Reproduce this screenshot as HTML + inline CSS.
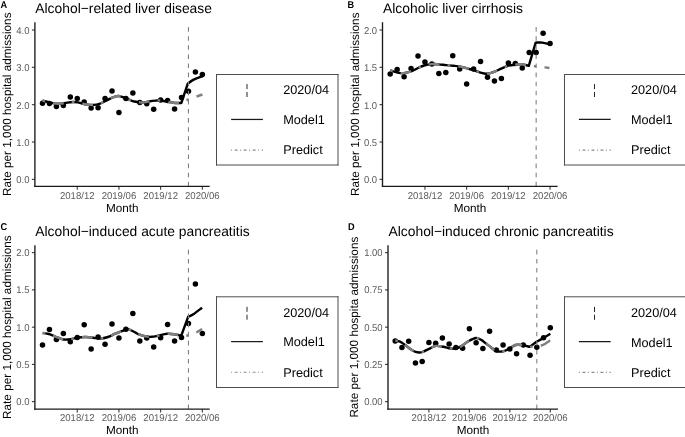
<!DOCTYPE html><html><head><meta charset="utf-8"><style>html,body{margin:0;padding:0;background:#fff;}svg{display:block;filter:grayscale(1);}text{font-family:"Liberation Sans", sans-serif;text-rendering:geometricPrecision;}</style></head><body>
<svg width="685" height="437" viewBox="0 0 685 437">
<rect width="685" height="437" fill="#fff"/>
<text x="35.30" y="13.10" font-size="13.85" fill="#000">Alcohol−related liver disease</text>
<text transform="translate(0.60,8.05) scale(0.93,1)" font-size="9.90" font-weight="bold" fill="#000">A</text>
<text transform="translate(10.50,104.27) rotate(-90)" text-anchor="middle" font-size="11.75" fill="#000">Rate per 1,000 hospital admissions</text>
<text x="122.30" y="211.50" text-anchor="middle" font-size="11.75" fill="#000">Month</text>
<line x1="31.90" y1="179.35" x2="34.90" y2="179.35" stroke="#333333" stroke-width="1.07"/>
<text transform="translate(29.50,183.30) scale(0.96,1)" text-anchor="end" font-size="9.90" fill="#5c5c5c">0.0</text>
<line x1="31.90" y1="142.01" x2="34.90" y2="142.01" stroke="#333333" stroke-width="1.07"/>
<text transform="translate(29.50,145.96) scale(0.96,1)" text-anchor="end" font-size="9.90" fill="#5c5c5c">1.0</text>
<line x1="31.90" y1="104.67" x2="34.90" y2="104.67" stroke="#333333" stroke-width="1.07"/>
<text transform="translate(29.50,108.62) scale(0.96,1)" text-anchor="end" font-size="9.90" fill="#5c5c5c">2.0</text>
<line x1="31.90" y1="67.33" x2="34.90" y2="67.33" stroke="#333333" stroke-width="1.07"/>
<text transform="translate(29.50,71.28) scale(0.96,1)" text-anchor="end" font-size="9.90" fill="#5c5c5c">3.0</text>
<line x1="31.90" y1="29.99" x2="34.90" y2="29.99" stroke="#333333" stroke-width="1.07"/>
<text transform="translate(29.50,33.94) scale(0.96,1)" text-anchor="end" font-size="9.90" fill="#5c5c5c">4.0</text>
<line x1="77.25" y1="186.35" x2="77.25" y2="189.65" stroke="#333333" stroke-width="1.07"/>
<text transform="translate(77.25,199.00) scale(0.97,1)" text-anchor="middle" font-size="9.90" fill="#5c5c5c">2018/12</text>
<line x1="118.95" y1="186.35" x2="118.95" y2="189.65" stroke="#333333" stroke-width="1.07"/>
<text transform="translate(118.95,199.00) scale(0.97,1)" text-anchor="middle" font-size="9.90" fill="#5c5c5c">2019/06</text>
<line x1="160.65" y1="186.35" x2="160.65" y2="189.65" stroke="#333333" stroke-width="1.07"/>
<text transform="translate(160.65,199.00) scale(0.97,1)" text-anchor="middle" font-size="9.90" fill="#5c5c5c">2019/12</text>
<line x1="202.35" y1="186.35" x2="202.35" y2="189.65" stroke="#333333" stroke-width="1.07"/>
<text transform="translate(202.35,199.00) scale(0.97,1)" text-anchor="middle" font-size="9.90" fill="#5c5c5c">2020/06</text>
<circle cx="42.50" cy="103.20" r="2.75" fill="#000"/>
<circle cx="49.45" cy="103.40" r="2.75" fill="#000"/>
<circle cx="56.40" cy="106.50" r="2.75" fill="#000"/>
<circle cx="63.35" cy="105.60" r="2.75" fill="#000"/>
<circle cx="70.30" cy="97.00" r="2.75" fill="#000"/>
<circle cx="77.25" cy="98.40" r="2.75" fill="#000"/>
<circle cx="84.20" cy="101.90" r="2.75" fill="#000"/>
<circle cx="91.15" cy="108.00" r="2.75" fill="#000"/>
<circle cx="98.10" cy="107.70" r="2.75" fill="#000"/>
<circle cx="105.05" cy="98.40" r="2.75" fill="#000"/>
<circle cx="112.00" cy="90.90" r="2.75" fill="#000"/>
<circle cx="118.95" cy="112.40" r="2.75" fill="#000"/>
<circle cx="125.90" cy="98.40" r="2.75" fill="#000"/>
<circle cx="132.85" cy="92.90" r="2.75" fill="#000"/>
<circle cx="139.80" cy="102.40" r="2.75" fill="#000"/>
<circle cx="146.75" cy="103.70" r="2.75" fill="#000"/>
<circle cx="153.70" cy="109.30" r="2.75" fill="#000"/>
<circle cx="160.65" cy="100.00" r="2.75" fill="#000"/>
<circle cx="167.60" cy="100.60" r="2.75" fill="#000"/>
<circle cx="174.55" cy="109.00" r="2.75" fill="#000"/>
<circle cx="181.50" cy="97.60" r="2.75" fill="#000"/>
<circle cx="188.45" cy="91.20" r="2.75" fill="#000"/>
<circle cx="195.40" cy="72.00" r="2.75" fill="#000"/>
<circle cx="202.35" cy="74.40" r="2.75" fill="#000"/>
<path d="M42.50,100.60 C43.12,100.75 44.52,101.08 46.20,101.50 C47.88,101.92 50.65,102.72 52.60,103.10 C54.55,103.48 56.05,103.75 57.90,103.80 C59.75,103.85 62.15,103.60 63.70,103.40 C65.25,103.20 65.65,102.83 67.20,102.60 C68.75,102.37 71.20,102.03 73.00,102.00 C74.80,101.97 76.53,102.15 78.00,102.40 C79.47,102.65 80.18,103.13 81.80,103.50 C83.42,103.87 85.75,104.37 87.70,104.60 C89.65,104.83 91.55,105.03 93.50,104.90 C95.45,104.77 97.45,104.43 99.40,103.80 C101.35,103.17 103.27,102.03 105.20,101.10 C107.13,100.17 109.20,99.00 111.00,98.20 C112.80,97.40 114.72,96.67 116.00,96.30 C117.28,95.93 117.57,95.87 118.70,96.00 C119.83,96.13 121.15,96.53 122.80,97.10 C124.45,97.67 126.67,98.67 128.60,99.40 C130.53,100.13 132.45,101.00 134.40,101.50 C136.35,102.00 138.35,102.30 140.30,102.40 C142.25,102.50 144.48,102.30 146.10,102.10 C147.72,101.90 148.38,101.45 150.00,101.20 C151.62,100.95 154.05,100.72 155.80,100.60 C157.55,100.48 158.55,100.30 160.50,100.50 C162.45,100.70 165.35,101.43 167.50,101.80 C169.65,102.17 171.45,102.50 173.40,102.70 C175.35,102.90 177.88,102.95 179.20,103.00 C180.52,103.05 180.95,103.00 181.30,103.00 L187.80,83.60 C188.55,83.07 190.85,81.28 192.30,80.40 C193.75,79.52 194.98,78.93 196.50,78.30 C198.02,77.67 200.35,76.98 201.40,76.60 C202.45,76.22 202.57,76.10 202.80,76.00" fill="none" stroke="#000" stroke-width="2.4" stroke-linejoin="round"/>
<path d="M42.50,100.60 C43.12,100.75 44.52,101.08 46.20,101.50 C47.88,101.92 50.65,102.72 52.60,103.10 C54.55,103.48 56.05,103.75 57.90,103.80 C59.75,103.85 62.15,103.60 63.70,103.40 C65.25,103.20 65.65,102.83 67.20,102.60 C68.75,102.37 71.20,102.03 73.00,102.00 C74.80,101.97 76.53,102.15 78.00,102.40 C79.47,102.65 80.18,103.13 81.80,103.50 C83.42,103.87 85.75,104.37 87.70,104.60 C89.65,104.83 91.55,105.03 93.50,104.90 C95.45,104.77 97.45,104.43 99.40,103.80 C101.35,103.17 103.27,102.03 105.20,101.10 C107.13,100.17 109.20,99.00 111.00,98.20 C112.80,97.40 114.72,96.67 116.00,96.30 C117.28,95.93 117.57,95.87 118.70,96.00 C119.83,96.13 121.15,96.53 122.80,97.10 C124.45,97.67 126.67,98.67 128.60,99.40 C130.53,100.13 132.45,101.00 134.40,101.50 C136.35,102.00 138.35,102.30 140.30,102.40 C142.25,102.50 144.48,102.30 146.10,102.10 C147.72,101.90 148.38,101.45 150.00,101.20 C151.62,100.95 154.05,100.72 155.80,100.60 C157.55,100.48 158.55,100.30 160.50,100.50 C162.45,100.70 165.35,101.43 167.50,101.80 C169.65,102.17 171.45,102.50 173.40,102.70 C175.35,102.90 177.88,102.95 179.20,103.00 C180.52,103.05 180.95,103.00 181.30,103.00 L188.45,99.30 C189.61,98.90 193.07,97.70 195.40,96.90 C197.73,96.10 201.23,94.90 202.40,94.50" fill="none" stroke="#808080" stroke-width="2.4" stroke-dasharray="2.7 8.1 10.8 8.1" stroke-dashoffset="0"/>
<line x1="188.45" y1="186.35" x2="188.45" y2="22.80" stroke="#7f7f7f" stroke-width="1.07" stroke-dasharray="4.55 4.55"/>
<line x1="34.90" y1="22.20" x2="34.90" y2="187.03" stroke="#1a1a1a" stroke-width="1.35"/>
<line x1="34.23" y1="186.35" x2="209.70" y2="186.35" stroke="#1a1a1a" stroke-width="1.35"/>
<rect x="216.50" y="74.50" width="121.50" height="90.50" fill="#fff"/>
<line x1="216.00" y1="74.50" x2="338.50" y2="74.50" stroke="#4d4d4d" stroke-width="1"/>
<line x1="216.00" y1="165.00" x2="338.50" y2="165.00" stroke="#4d4d4d" stroke-width="1"/>
<line x1="216.50" y1="74.00" x2="216.50" y2="165.50" stroke="#4d4d4d" stroke-width="1"/>
<line x1="338.00" y1="74.00" x2="338.00" y2="165.50" stroke="#4d4d4d" stroke-width="1"/>
<line x1="247.00" y1="97.00" x2="247.00" y2="83.90" stroke="#262626" stroke-width="1.0" stroke-dasharray="5.0 2.9"/>
<line x1="231.10" y1="119.45" x2="262.90" y2="119.45" stroke="#1a1a1a" stroke-width="1.25"/>
<line x1="231.10" y1="150.10" x2="263.00" y2="150.10" stroke="#8a8a8a" stroke-width="1.1" stroke-dasharray="0.9 2.7 2.9 2.5"/>
<text x="283.20" y="94.10" font-size="12.70" fill="#000">2020/04</text>
<text x="283.20" y="123.75" font-size="12.70" fill="#000">Model1</text>
<text x="283.20" y="154.10" font-size="12.70" fill="#000">Predict</text>
<text x="383.00" y="13.10" font-size="13.85" fill="#000">Alcoholic liver cirrhosis</text>
<text transform="translate(347.60,8.05) scale(0.93,1)" font-size="9.90" font-weight="bold" fill="#000">B</text>
<text transform="translate(358.80,104.27) rotate(-90)" text-anchor="middle" font-size="11.75" fill="#000">Rate per 1,000 hospital admissions</text>
<text x="470.05" y="211.50" text-anchor="middle" font-size="11.75" fill="#000">Month</text>
<line x1="379.50" y1="179.35" x2="382.50" y2="179.35" stroke="#333333" stroke-width="1.07"/>
<text transform="translate(377.10,183.30) scale(0.96,1)" text-anchor="end" font-size="9.90" fill="#5c5c5c">0.0</text>
<line x1="379.50" y1="142.01" x2="382.50" y2="142.01" stroke="#333333" stroke-width="1.07"/>
<text transform="translate(377.10,145.96) scale(0.96,1)" text-anchor="end" font-size="9.90" fill="#5c5c5c">0.5</text>
<line x1="379.50" y1="104.67" x2="382.50" y2="104.67" stroke="#333333" stroke-width="1.07"/>
<text transform="translate(377.10,108.62) scale(0.96,1)" text-anchor="end" font-size="9.90" fill="#5c5c5c">1.0</text>
<line x1="379.50" y1="67.33" x2="382.50" y2="67.33" stroke="#333333" stroke-width="1.07"/>
<text transform="translate(377.10,71.28) scale(0.96,1)" text-anchor="end" font-size="9.90" fill="#5c5c5c">1.5</text>
<line x1="379.50" y1="29.99" x2="382.50" y2="29.99" stroke="#333333" stroke-width="1.07"/>
<text transform="translate(377.10,33.94) scale(0.96,1)" text-anchor="end" font-size="9.90" fill="#5c5c5c">2.0</text>
<line x1="424.95" y1="186.35" x2="424.95" y2="189.65" stroke="#333333" stroke-width="1.07"/>
<text transform="translate(424.95,199.00) scale(0.97,1)" text-anchor="middle" font-size="9.90" fill="#5c5c5c">2018/12</text>
<line x1="466.65" y1="186.35" x2="466.65" y2="189.65" stroke="#333333" stroke-width="1.07"/>
<text transform="translate(466.65,199.00) scale(0.97,1)" text-anchor="middle" font-size="9.90" fill="#5c5c5c">2019/06</text>
<line x1="508.35" y1="186.35" x2="508.35" y2="189.65" stroke="#333333" stroke-width="1.07"/>
<text transform="translate(508.35,199.00) scale(0.97,1)" text-anchor="middle" font-size="9.90" fill="#5c5c5c">2019/12</text>
<line x1="550.05" y1="186.35" x2="550.05" y2="189.65" stroke="#333333" stroke-width="1.07"/>
<text transform="translate(550.05,199.00) scale(0.97,1)" text-anchor="middle" font-size="9.90" fill="#5c5c5c">2020/06</text>
<circle cx="390.20" cy="74.10" r="2.75" fill="#000"/>
<circle cx="397.15" cy="69.40" r="2.75" fill="#000"/>
<circle cx="404.10" cy="76.70" r="2.75" fill="#000"/>
<circle cx="411.05" cy="68.50" r="2.75" fill="#000"/>
<circle cx="418.00" cy="56.00" r="2.75" fill="#000"/>
<circle cx="424.95" cy="62.10" r="2.75" fill="#000"/>
<circle cx="431.90" cy="63.90" r="2.75" fill="#000"/>
<circle cx="438.85" cy="73.40" r="2.75" fill="#000"/>
<circle cx="445.80" cy="72.50" r="2.75" fill="#000"/>
<circle cx="452.75" cy="55.70" r="2.75" fill="#000"/>
<circle cx="459.70" cy="69.00" r="2.75" fill="#000"/>
<circle cx="466.65" cy="84.00" r="2.75" fill="#000"/>
<circle cx="473.60" cy="69.00" r="2.75" fill="#000"/>
<circle cx="480.55" cy="61.50" r="2.75" fill="#000"/>
<circle cx="487.50" cy="77.30" r="2.75" fill="#000"/>
<circle cx="494.45" cy="80.90" r="2.75" fill="#000"/>
<circle cx="501.40" cy="78.50" r="2.75" fill="#000"/>
<circle cx="508.35" cy="63.00" r="2.75" fill="#000"/>
<circle cx="515.30" cy="63.40" r="2.75" fill="#000"/>
<circle cx="522.25" cy="68.10" r="2.75" fill="#000"/>
<circle cx="529.20" cy="52.40" r="2.75" fill="#000"/>
<circle cx="536.15" cy="52.40" r="2.75" fill="#000"/>
<circle cx="543.10" cy="33.20" r="2.75" fill="#000"/>
<circle cx="550.05" cy="43.40" r="2.75" fill="#000"/>
<path d="M390.20,70.30 C390.97,70.55 393.07,71.33 394.80,71.80 C396.53,72.27 398.67,72.97 400.60,73.10 C402.53,73.23 404.45,72.97 406.40,72.60 C408.35,72.23 410.35,71.67 412.30,70.90 C414.25,70.13 416.15,68.90 418.10,68.00 C420.05,67.10 421.80,66.15 424.00,65.50 C426.20,64.85 428.87,64.28 431.30,64.10 C433.73,63.92 436.17,64.23 438.60,64.40 C441.03,64.57 443.47,64.88 445.90,65.10 C448.33,65.32 450.77,65.45 453.20,65.70 C455.63,65.95 458.07,66.12 460.50,66.60 C462.93,67.08 465.55,67.98 467.80,68.60 C470.05,69.22 472.08,69.70 474.00,70.30 C475.92,70.90 477.20,71.63 479.30,72.20 C481.40,72.77 484.17,73.75 486.60,73.70 C489.03,73.65 491.47,72.75 493.90,71.90 C496.33,71.05 498.77,69.63 501.20,68.60 C503.63,67.57 506.07,66.37 508.50,65.70 C510.93,65.03 513.55,64.83 515.80,64.60 C518.05,64.37 519.83,64.10 522.00,64.30 C524.17,64.50 527.67,65.55 528.80,65.80 L535.70,42.60 C536.83,42.60 540.22,42.33 542.50,42.60 C544.78,42.87 548.25,43.93 549.40,44.20" fill="none" stroke="#000" stroke-width="2.4" stroke-linejoin="round"/>
<path d="M390.20,70.30 C390.97,70.55 393.07,71.33 394.80,71.80 C396.53,72.27 398.67,72.97 400.60,73.10 C402.53,73.23 404.45,72.97 406.40,72.60 C408.35,72.23 410.35,71.67 412.30,70.90 C414.25,70.13 416.15,68.90 418.10,68.00 C420.05,67.10 421.80,66.15 424.00,65.50 C426.20,64.85 428.87,64.28 431.30,64.10 C433.73,63.92 436.17,64.23 438.60,64.40 C441.03,64.57 443.47,64.88 445.90,65.10 C448.33,65.32 450.77,65.45 453.20,65.70 C455.63,65.95 458.07,66.12 460.50,66.60 C462.93,67.08 465.55,67.98 467.80,68.60 C470.05,69.22 472.08,69.70 474.00,70.30 C475.92,70.90 477.20,71.63 479.30,72.20 C481.40,72.77 484.17,73.75 486.60,73.70 C489.03,73.65 491.47,72.75 493.90,71.90 C496.33,71.05 498.77,69.63 501.20,68.60 C503.63,67.57 506.07,66.37 508.50,65.70 C510.93,65.03 513.55,64.83 515.80,64.60 C518.05,64.37 519.83,64.10 522.00,64.30 C524.17,64.50 527.67,65.55 528.80,65.80 L535.70,66.30 C536.83,66.42 540.22,66.72 542.50,67.00 C544.78,67.28 548.25,67.83 549.40,68.00" fill="none" stroke="#808080" stroke-width="2.4" stroke-dasharray="2.7 8.1 10.8 8.1" stroke-dashoffset="0"/>
<line x1="536.15" y1="186.35" x2="536.15" y2="22.80" stroke="#7f7f7f" stroke-width="1.07" stroke-dasharray="4.55 4.55"/>
<line x1="382.50" y1="22.20" x2="382.50" y2="187.03" stroke="#1a1a1a" stroke-width="1.35"/>
<line x1="381.82" y1="186.35" x2="557.60" y2="186.35" stroke="#1a1a1a" stroke-width="1.35"/>
<rect x="564.50" y="74.50" width="135.50" height="90.50" fill="#fff"/>
<line x1="564.00" y1="74.50" x2="700.50" y2="74.50" stroke="#4d4d4d" stroke-width="1"/>
<line x1="564.00" y1="165.00" x2="700.50" y2="165.00" stroke="#4d4d4d" stroke-width="1"/>
<line x1="564.50" y1="74.00" x2="564.50" y2="165.50" stroke="#4d4d4d" stroke-width="1"/>
<line x1="700.00" y1="74.00" x2="700.00" y2="165.50" stroke="#4d4d4d" stroke-width="1"/>
<line x1="594.50" y1="97.00" x2="594.50" y2="83.90" stroke="#262626" stroke-width="1.0" stroke-dasharray="5.0 2.9"/>
<line x1="578.90" y1="119.45" x2="610.70" y2="119.45" stroke="#1a1a1a" stroke-width="1.25"/>
<line x1="578.90" y1="150.10" x2="610.80" y2="150.10" stroke="#8a8a8a" stroke-width="1.1" stroke-dasharray="0.9 2.7 2.9 2.5"/>
<text x="631.00" y="94.10" font-size="12.70" fill="#000">2020/04</text>
<text x="631.00" y="123.75" font-size="12.70" fill="#000">Model1</text>
<text x="631.00" y="154.10" font-size="12.70" fill="#000">Predict</text>
<text x="35.30" y="236.40" font-size="13.85" fill="#000">Alcohol−induced acute pancreatitis</text>
<text transform="translate(0.60,230.25) scale(0.93,1)" font-size="9.90" font-weight="bold" fill="#000">C</text>
<text transform="translate(10.50,327.15) rotate(-90)" text-anchor="middle" font-size="11.75" fill="#000">Rate per 1,000 hospital admissions</text>
<text x="122.30" y="434.40" text-anchor="middle" font-size="11.75" fill="#000">Month</text>
<line x1="31.90" y1="401.65" x2="34.90" y2="401.65" stroke="#333333" stroke-width="1.07"/>
<text transform="translate(29.50,405.10) scale(0.96,1)" text-anchor="end" font-size="9.90" fill="#5c5c5c">0.0</text>
<line x1="31.90" y1="364.40" x2="34.90" y2="364.40" stroke="#333333" stroke-width="1.07"/>
<text transform="translate(29.50,367.85) scale(0.96,1)" text-anchor="end" font-size="9.90" fill="#5c5c5c">0.5</text>
<line x1="31.90" y1="327.15" x2="34.90" y2="327.15" stroke="#333333" stroke-width="1.07"/>
<text transform="translate(29.50,330.60) scale(0.96,1)" text-anchor="end" font-size="9.90" fill="#5c5c5c">1.0</text>
<line x1="31.90" y1="289.90" x2="34.90" y2="289.90" stroke="#333333" stroke-width="1.07"/>
<text transform="translate(29.50,293.35) scale(0.96,1)" text-anchor="end" font-size="9.90" fill="#5c5c5c">1.5</text>
<line x1="31.90" y1="252.65" x2="34.90" y2="252.65" stroke="#333333" stroke-width="1.07"/>
<text transform="translate(29.50,256.10) scale(0.96,1)" text-anchor="end" font-size="9.90" fill="#5c5c5c">2.0</text>
<line x1="77.25" y1="409.10" x2="77.25" y2="412.40" stroke="#333333" stroke-width="1.07"/>
<text transform="translate(77.25,421.20) scale(0.97,1)" text-anchor="middle" font-size="9.90" fill="#5c5c5c">2018/12</text>
<line x1="118.95" y1="409.10" x2="118.95" y2="412.40" stroke="#333333" stroke-width="1.07"/>
<text transform="translate(118.95,421.20) scale(0.97,1)" text-anchor="middle" font-size="9.90" fill="#5c5c5c">2019/06</text>
<line x1="160.65" y1="409.10" x2="160.65" y2="412.40" stroke="#333333" stroke-width="1.07"/>
<text transform="translate(160.65,421.20) scale(0.97,1)" text-anchor="middle" font-size="9.90" fill="#5c5c5c">2019/12</text>
<line x1="202.35" y1="409.10" x2="202.35" y2="412.40" stroke="#333333" stroke-width="1.07"/>
<text transform="translate(202.35,421.20) scale(0.97,1)" text-anchor="middle" font-size="9.90" fill="#5c5c5c">2020/06</text>
<circle cx="42.50" cy="345.00" r="2.75" fill="#000"/>
<circle cx="49.45" cy="329.60" r="2.75" fill="#000"/>
<circle cx="56.40" cy="339.40" r="2.75" fill="#000"/>
<circle cx="63.35" cy="333.50" r="2.75" fill="#000"/>
<circle cx="70.30" cy="341.80" r="2.75" fill="#000"/>
<circle cx="77.25" cy="337.50" r="2.75" fill="#000"/>
<circle cx="84.20" cy="324.70" r="2.75" fill="#000"/>
<circle cx="91.15" cy="349.00" r="2.75" fill="#000"/>
<circle cx="98.10" cy="337.00" r="2.75" fill="#000"/>
<circle cx="105.05" cy="344.20" r="2.75" fill="#000"/>
<circle cx="112.00" cy="324.10" r="2.75" fill="#000"/>
<circle cx="118.95" cy="338.00" r="2.75" fill="#000"/>
<circle cx="125.90" cy="329.20" r="2.75" fill="#000"/>
<circle cx="132.85" cy="313.60" r="2.75" fill="#000"/>
<circle cx="139.80" cy="341.10" r="2.75" fill="#000"/>
<circle cx="146.75" cy="338.10" r="2.75" fill="#000"/>
<circle cx="153.70" cy="346.90" r="2.75" fill="#000"/>
<circle cx="160.65" cy="337.80" r="2.75" fill="#000"/>
<circle cx="167.60" cy="324.40" r="2.75" fill="#000"/>
<circle cx="174.55" cy="341.10" r="2.75" fill="#000"/>
<circle cx="181.50" cy="337.40" r="2.75" fill="#000"/>
<circle cx="188.45" cy="323.50" r="2.75" fill="#000"/>
<circle cx="195.40" cy="284.10" r="2.75" fill="#000"/>
<circle cx="202.35" cy="333.60" r="2.75" fill="#000"/>
<path d="M42.70,333.00 C43.75,333.17 46.75,333.33 49.00,334.00 C51.25,334.67 53.78,336.08 56.20,337.00 C58.62,337.92 61.07,339.13 63.50,339.50 C65.93,339.87 68.37,339.53 70.80,339.20 C73.23,338.87 75.57,337.87 78.10,337.50 C80.63,337.13 83.47,336.97 86.00,337.00 C88.53,337.03 90.87,337.43 93.30,337.70 C95.73,337.97 98.17,338.72 100.60,338.60 C103.03,338.48 105.47,337.82 107.90,337.00 C110.33,336.18 112.77,334.73 115.20,333.70 C117.63,332.67 120.55,331.53 122.50,330.80 C124.45,330.07 125.43,329.37 126.90,329.30 C128.37,329.23 129.78,329.80 131.30,330.40 C132.82,331.00 134.63,332.20 136.00,332.90 C137.37,333.60 138.00,334.03 139.50,334.60 C141.00,335.17 142.98,335.93 145.00,336.30 C147.02,336.67 149.40,336.90 151.60,336.80 C153.80,336.70 155.63,336.20 158.20,335.70 C160.77,335.20 164.25,334.03 167.00,333.80 C169.75,333.57 172.32,333.98 174.70,334.30 C177.08,334.62 180.20,335.47 181.30,335.70 L188.20,316.70 C189.05,316.30 190.98,315.80 193.30,314.30 C195.62,312.80 200.63,308.80 202.10,307.70" fill="none" stroke="#000" stroke-width="2.4" stroke-linejoin="round"/>
<path d="M42.70,333.00 C43.75,333.17 46.75,333.33 49.00,334.00 C51.25,334.67 53.78,336.08 56.20,337.00 C58.62,337.92 61.07,339.13 63.50,339.50 C65.93,339.87 68.37,339.53 70.80,339.20 C73.23,338.87 75.57,337.87 78.10,337.50 C80.63,337.13 83.47,336.97 86.00,337.00 C88.53,337.03 90.87,337.43 93.30,337.70 C95.73,337.97 98.17,338.72 100.60,338.60 C103.03,338.48 105.47,337.82 107.90,337.00 C110.33,336.18 112.77,334.73 115.20,333.70 C117.63,332.67 120.55,331.53 122.50,330.80 C124.45,330.07 125.43,329.37 126.90,329.30 C128.37,329.23 129.78,329.80 131.30,330.40 C132.82,331.00 134.63,332.20 136.00,332.90 C137.37,333.60 138.00,334.03 139.50,334.60 C141.00,335.17 142.98,335.93 145.00,336.30 C147.02,336.67 149.40,336.90 151.60,336.80 C153.80,336.70 155.63,336.20 158.20,335.70 C160.77,335.20 164.25,334.03 167.00,333.80 C169.75,333.57 172.32,333.98 174.70,334.30 C177.08,334.62 180.20,335.47 181.30,335.70 L188.45,335.50 C189.59,335.08 193.03,334.08 195.30,333.00 C197.58,331.92 200.97,329.67 202.10,329.00" fill="none" stroke="#808080" stroke-width="2.4" stroke-dasharray="2.7 8.1 10.8 8.1" stroke-dashoffset="0"/>
<line x1="188.45" y1="409.10" x2="188.45" y2="245.80" stroke="#7f7f7f" stroke-width="1.07" stroke-dasharray="4.55 4.55"/>
<line x1="34.90" y1="245.20" x2="34.90" y2="409.78" stroke="#1a1a1a" stroke-width="1.35"/>
<line x1="34.23" y1="409.10" x2="209.70" y2="409.10" stroke="#1a1a1a" stroke-width="1.35"/>
<rect x="216.50" y="296.80" width="121.50" height="90.70" fill="#fff"/>
<line x1="216.00" y1="296.80" x2="338.50" y2="296.80" stroke="#4d4d4d" stroke-width="1"/>
<line x1="216.00" y1="387.50" x2="338.50" y2="387.50" stroke="#4d4d4d" stroke-width="1"/>
<line x1="216.50" y1="296.30" x2="216.50" y2="388.00" stroke="#4d4d4d" stroke-width="1"/>
<line x1="338.00" y1="296.30" x2="338.00" y2="388.00" stroke="#4d4d4d" stroke-width="1"/>
<line x1="247.00" y1="319.70" x2="247.00" y2="306.60" stroke="#262626" stroke-width="1.0" stroke-dasharray="5.0 2.9"/>
<line x1="231.10" y1="341.60" x2="262.90" y2="341.60" stroke="#1a1a1a" stroke-width="1.25"/>
<line x1="231.10" y1="372.30" x2="263.00" y2="372.30" stroke="#8a8a8a" stroke-width="1.1" stroke-dasharray="0.9 2.7 2.9 2.5"/>
<text x="283.20" y="316.80" font-size="12.70" fill="#000">2020/04</text>
<text x="283.20" y="346.45" font-size="12.70" fill="#000">Model1</text>
<text x="283.20" y="376.80" font-size="12.70" fill="#000">Predict</text>
<text x="388.50" y="236.40" font-size="13.85" fill="#000">Alcohol−induced chronic pancreatitis</text>
<text transform="translate(348.00,230.25) scale(0.93,1)" font-size="9.90" font-weight="bold" fill="#000">D</text>
<text transform="translate(358.30,327.15) rotate(-90)" text-anchor="middle" font-size="11.75" fill="#000">Rate per 1,000 hospita admissions</text>
<text x="473.00" y="434.40" text-anchor="middle" font-size="11.75" fill="#000">Month</text>
<line x1="385.00" y1="401.65" x2="388.00" y2="401.65" stroke="#333333" stroke-width="1.07"/>
<text transform="translate(382.60,405.10) scale(0.96,1)" text-anchor="end" font-size="9.90" fill="#5c5c5c">0.00</text>
<line x1="385.00" y1="364.40" x2="388.00" y2="364.40" stroke="#333333" stroke-width="1.07"/>
<text transform="translate(382.60,367.85) scale(0.96,1)" text-anchor="end" font-size="9.90" fill="#5c5c5c">0.25</text>
<line x1="385.00" y1="327.15" x2="388.00" y2="327.15" stroke="#333333" stroke-width="1.07"/>
<text transform="translate(382.60,330.60) scale(0.96,1)" text-anchor="end" font-size="9.90" fill="#5c5c5c">0.50</text>
<line x1="385.00" y1="289.90" x2="388.00" y2="289.90" stroke="#333333" stroke-width="1.07"/>
<text transform="translate(382.60,293.35) scale(0.96,1)" text-anchor="end" font-size="9.90" fill="#5c5c5c">0.75</text>
<line x1="385.00" y1="252.65" x2="388.00" y2="252.65" stroke="#333333" stroke-width="1.07"/>
<text transform="translate(382.60,256.10) scale(0.96,1)" text-anchor="end" font-size="9.90" fill="#5c5c5c">1.00</text>
<line x1="428.91" y1="409.10" x2="428.91" y2="412.40" stroke="#333333" stroke-width="1.07"/>
<text transform="translate(428.91,421.20) scale(0.97,1)" text-anchor="middle" font-size="9.90" fill="#5c5c5c">2018/12</text>
<line x1="469.37" y1="409.10" x2="469.37" y2="412.40" stroke="#333333" stroke-width="1.07"/>
<text transform="translate(469.37,421.20) scale(0.97,1)" text-anchor="middle" font-size="9.90" fill="#5c5c5c">2019/06</text>
<line x1="509.83" y1="409.10" x2="509.83" y2="412.40" stroke="#333333" stroke-width="1.07"/>
<text transform="translate(509.83,421.20) scale(0.97,1)" text-anchor="middle" font-size="9.90" fill="#5c5c5c">2019/12</text>
<line x1="550.29" y1="409.10" x2="550.29" y2="412.40" stroke="#333333" stroke-width="1.07"/>
<text transform="translate(550.29,421.20) scale(0.97,1)" text-anchor="middle" font-size="9.90" fill="#5c5c5c">2020/06</text>
<circle cx="395.20" cy="340.90" r="2.75" fill="#000"/>
<circle cx="401.94" cy="347.40" r="2.75" fill="#000"/>
<circle cx="408.69" cy="341.30" r="2.75" fill="#000"/>
<circle cx="415.43" cy="363.10" r="2.75" fill="#000"/>
<circle cx="422.17" cy="361.60" r="2.75" fill="#000"/>
<circle cx="428.91" cy="342.40" r="2.75" fill="#000"/>
<circle cx="435.66" cy="343.30" r="2.75" fill="#000"/>
<circle cx="442.40" cy="338.10" r="2.75" fill="#000"/>
<circle cx="449.14" cy="343.90" r="2.75" fill="#000"/>
<circle cx="455.89" cy="347.60" r="2.75" fill="#000"/>
<circle cx="462.63" cy="348.30" r="2.75" fill="#000"/>
<circle cx="469.37" cy="328.80" r="2.75" fill="#000"/>
<circle cx="476.12" cy="342.80" r="2.75" fill="#000"/>
<circle cx="482.86" cy="348.40" r="2.75" fill="#000"/>
<circle cx="489.60" cy="331.30" r="2.75" fill="#000"/>
<circle cx="496.35" cy="350.10" r="2.75" fill="#000"/>
<circle cx="503.09" cy="345.00" r="2.75" fill="#000"/>
<circle cx="509.83" cy="349.00" r="2.75" fill="#000"/>
<circle cx="516.57" cy="353.80" r="2.75" fill="#000"/>
<circle cx="523.32" cy="345.00" r="2.75" fill="#000"/>
<circle cx="530.06" cy="355.30" r="2.75" fill="#000"/>
<circle cx="536.80" cy="347.30" r="2.75" fill="#000"/>
<circle cx="543.55" cy="337.70" r="2.75" fill="#000"/>
<circle cx="550.29" cy="327.70" r="2.75" fill="#000"/>
<path d="M395.20,340.50 C396.00,340.68 398.28,340.82 400.00,341.60 C401.72,342.38 403.83,344.00 405.50,345.20 C407.17,346.40 408.32,347.68 410.00,348.80 C411.68,349.92 413.60,351.35 415.60,351.90 C417.60,352.45 419.57,352.70 422.00,352.10 C424.43,351.50 427.87,349.33 430.20,348.30 C432.53,347.27 433.82,346.15 436.00,345.90 C438.18,345.65 440.87,346.35 443.30,346.80 C445.73,347.25 448.42,348.35 450.60,348.60 C452.78,348.85 454.58,348.72 456.40,348.30 C458.22,347.88 459.43,347.32 461.50,346.10 C463.57,344.88 466.37,342.35 468.80,341.00 C471.23,339.65 474.02,338.18 476.10,338.00 C478.18,337.82 479.65,338.98 481.30,339.90 C482.95,340.82 484.58,342.42 486.00,343.50 C487.42,344.58 488.18,345.18 489.80,346.40 C491.42,347.62 493.63,349.95 495.70,350.80 C497.77,351.65 500.13,351.73 502.20,351.50 C504.27,351.27 505.90,350.48 508.10,349.40 C510.30,348.32 512.97,345.72 515.40,345.00 C517.83,344.28 520.32,344.78 522.70,345.10 C525.08,345.42 528.53,346.60 529.70,346.90 L536.50,341.80 C537.60,341.18 540.80,339.43 543.10,338.10 C545.40,336.77 549.10,334.52 550.30,333.80" fill="none" stroke="#000" stroke-width="2.4" stroke-linejoin="round"/>
<path d="M395.20,340.50 C396.00,340.68 398.28,340.82 400.00,341.60 C401.72,342.38 403.83,344.00 405.50,345.20 C407.17,346.40 408.32,347.68 410.00,348.80 C411.68,349.92 413.60,351.35 415.60,351.90 C417.60,352.45 419.57,352.70 422.00,352.10 C424.43,351.50 427.87,349.33 430.20,348.30 C432.53,347.27 433.82,346.15 436.00,345.90 C438.18,345.65 440.87,346.35 443.30,346.80 C445.73,347.25 448.42,348.35 450.60,348.60 C452.78,348.85 454.58,348.72 456.40,348.30 C458.22,347.88 459.43,347.32 461.50,346.10 C463.57,344.88 466.37,342.35 468.80,341.00 C471.23,339.65 474.02,338.18 476.10,338.00 C478.18,337.82 479.65,338.98 481.30,339.90 C482.95,340.82 484.58,342.42 486.00,343.50 C487.42,344.58 488.18,345.18 489.80,346.40 C491.42,347.62 493.63,349.95 495.70,350.80 C497.77,351.65 500.13,351.73 502.20,351.50 C504.27,351.27 505.90,350.48 508.10,349.40 C510.30,348.32 512.97,345.72 515.40,345.00 C517.83,344.28 520.32,344.78 522.70,345.10 C525.08,345.42 528.53,346.60 529.70,346.90 L536.50,346.30 C537.60,346.05 540.80,345.82 543.10,344.80 C545.40,343.78 549.10,340.97 550.30,340.20" fill="none" stroke="#808080" stroke-width="2.4" stroke-dasharray="2.7 8.1 10.8 8.1" stroke-dashoffset="0"/>
<line x1="536.80" y1="409.10" x2="536.80" y2="245.80" stroke="#7f7f7f" stroke-width="1.07" stroke-dasharray="4.55 4.55"/>
<line x1="388.00" y1="245.20" x2="388.00" y2="409.78" stroke="#1a1a1a" stroke-width="1.35"/>
<line x1="387.32" y1="409.10" x2="558.00" y2="409.10" stroke="#1a1a1a" stroke-width="1.35"/>
<rect x="564.50" y="296.80" width="135.50" height="90.70" fill="#fff"/>
<line x1="564.00" y1="296.80" x2="700.50" y2="296.80" stroke="#4d4d4d" stroke-width="1"/>
<line x1="564.00" y1="387.50" x2="700.50" y2="387.50" stroke="#4d4d4d" stroke-width="1"/>
<line x1="564.50" y1="296.30" x2="564.50" y2="388.00" stroke="#4d4d4d" stroke-width="1"/>
<line x1="700.00" y1="296.30" x2="700.00" y2="388.00" stroke="#4d4d4d" stroke-width="1"/>
<line x1="594.50" y1="319.80" x2="594.50" y2="306.70" stroke="#262626" stroke-width="1.0" stroke-dasharray="5.0 2.9"/>
<line x1="578.90" y1="341.60" x2="610.70" y2="341.60" stroke="#1a1a1a" stroke-width="1.25"/>
<line x1="578.90" y1="372.40" x2="610.80" y2="372.40" stroke="#8a8a8a" stroke-width="1.1" stroke-dasharray="0.9 2.7 2.9 2.5"/>
<text x="631.00" y="316.90" font-size="12.70" fill="#000">2020/04</text>
<text x="631.00" y="346.55" font-size="12.70" fill="#000">Model1</text>
<text x="631.00" y="376.90" font-size="12.70" fill="#000">Predict</text>
</svg></body></html>
